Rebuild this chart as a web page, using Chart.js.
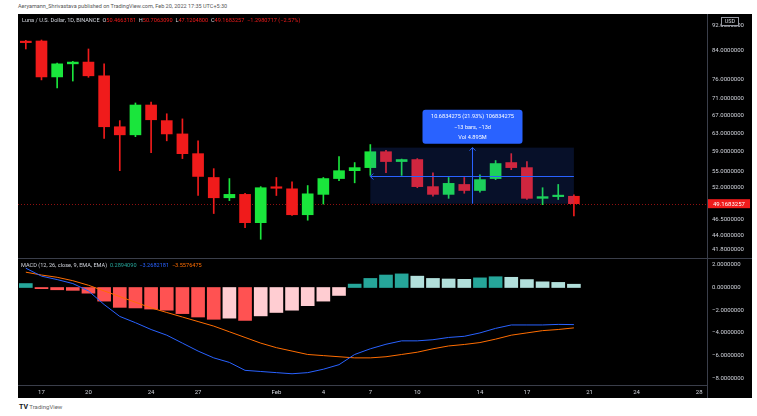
<!DOCTYPE html>
<html><head><meta charset="utf-8">
<script src="https://cdn.jsdelivr.net/npm/chart.js@4.4.1/dist/chart.umd.min.js"></script>
<style>
html,body{margin:0;padding:0;background:#fff;width:757px;height:416px;overflow:hidden;font-family:Roboto,'Liberation Sans',sans-serif}
#pub{position:absolute;left:18px;top:3px;font-size:5.5px;color:#555;white-space:nowrap}
#panel{position:absolute;left:18px;top:14px;width:734px;height:384px;background:#000}
#pc{position:absolute;left:18px;top:14px}
#mc{position:absolute;left:18px;top:258px}
#logo{position:absolute;left:19px;top:403px;font-size:6px;color:#666;white-space:nowrap}
</style></head><body>
<div id="pub">Aeryamann_Shrivastava published on TradingView.com, Feb 20, 2022 17:35 UTC+5:30</div>
<div id="panel"></div>
<canvas id="pc" width="734" height="244"></canvas>
<canvas id="mc" width="734" height="140"></canvas>
<div id="logo"><b style="color:#131722;font-size:7px">TV</b> TradingView</div>
<script>
// ---------- data ----------
const dates = ['Jan 16','Jan 17','Jan 18','Jan 19','Jan 20','Jan 21','Jan 22','Jan 23','Jan 24','Jan 25','Jan 26','Jan 27','Jan 28','Jan 29','Jan 30','Jan 31',
  'Feb 1','Feb 2','Feb 3','Feb 4','Feb 5','Feb 6','Feb 7','Feb 8','Feb 9','Feb 10','Feb 11','Feb 12','Feb 13','Feb 14','Feb 15','Feb 16','Feb 17','Feb 18','Feb 19','Feb 20',
  'Feb 21','Feb 22','Feb 23','Feb 24','Feb 25','Feb 26','Feb 27','Feb 28'];
const opens  = [86.7,87.0,76.7,80.3,80.8,77.0,64.4,62.6,69.5,65.8,62.8,58.6,53.9,50.2,50.8,46.0,52.0,51.8,47.3,50.8,53.7,55.2,55.8,59.0,57.0,57.4,52.2,50.8,52.6,51.5,53.7,56.8,55.8,50.1,50.4,50.4663181];
const highs  = [87.2,87.3,80.5,81.0,84.6,80.3,65.8,70.0,70.2,67.4,66.2,61.3,55.6,53.7,51.0,52.2,53.9,53.1,52.4,53.9,58.0,56.8,60.5,59.3,57.5,57.6,54.8,53.9,53.9,54.4,57.2,58.6,57.0,52.0,52.6,50.7063090];
const lows   = [84.6,75.9,73.8,75.6,76.6,61.8,55.2,62.2,58.8,61.3,57.6,50.6,47.5,49.7,45.2,43.4,50.6,47.2,46.4,49.1,53.3,52.9,54.3,54.8,54.3,52.0,50.5,50.1,51.0,51.2,53.5,55.4,49.9,49.0,49.9,47.1204800];
const closes = [86.5,76.7,80.3,80.8,77.0,64.4,62.6,69.5,66.0,62.8,58.6,54.1,50.2,50.8,46.0,52.0,51.9,47.3,50.9,53.7,55.2,55.8,59.0,57.0,57.4,52.2,50.8,52.8,51.5,53.5,56.6,55.8,50.1,50.4,50.4663,49.1683257];
const macdLine   = [1.7,1.0,0.7,0.35,-0.3,-1.5,-2.55,-3.1,-3.7,-4.2,-4.9,-5.6,-6.2,-6.6,-7.3,-7.4,-7.5,-7.6,-7.5,-7.2,-6.8,-5.9,-5.4,-5.0,-4.7,-4.7,-4.6,-4.4,-4.3,-4.0,-3.6,-3.3,-3.3,-3.3,-3.25,-3.2682181];
const signalLine = [1.35,1.1,0.9,0.6,0.2,-0.3,-0.8,-1.3,-1.8,-2.2,-2.6,-3.0,-3.4,-3.9,-4.4,-4.9,-5.3,-5.6,-5.9,-6.0,-6.1,-6.2,-6.2,-6.1,-5.9,-5.7,-5.4,-5.15,-5.02,-4.85,-4.55,-4.2,-4.0,-3.8,-3.7,-3.5576475];
const histogram  = [0.35,-0.1,-0.2,-0.25,-0.5,-1.2,-1.75,-1.8,-1.9,-2.0,-2.3,-2.6,-2.8,-2.7,-2.9,-2.5,-2.2,-2.0,-1.6,-1.2,-0.7,0.3,0.8,1.1,1.2,1.0,0.8,0.75,0.72,0.85,0.95,0.9,0.7,0.5,0.45,0.2894090];
const priceTicks = [92,84,76,71,67,63,59,55,52,46.5,44,41.8];
const macdTicks  = [2,0,-2,-4,-6,-8];
const xTickLabels = {'Jan 17':'17','Jan 20':'20','Jan 24':'24','Jan 27':'27','Feb 1':'Feb','Feb 4':'4','Feb 7':'7','Feb 10':'10','Feb 14':'14','Feb 17':'17','Feb 21':'21','Feb 24':'24','Feb 28':'28'};
const changeText = '−1.2980717 (−2.57%)';
const rangeFrom = 'Feb 7', rangeTo = 'Feb 20', rangeHigh = 59.8517532, rangeLow = 49.1683257;
const rangeText = ['10.6834275 (21.93%) 106834275', '−13 bars, −13d', 'Vol 4.895M'];
const macdTitle = 'MACD (12, 26, close, 9, EMA, EMA)';

// ---------- styles ----------
const UP = '#1ae53c', DOWN = '#f01b1b';
const TXT = '#d1d4dc', AXIS = '#3a3e4a', FONT = 'Roboto, "Liberation Sans", sans-serif';
const candleCol = opens.map((o,i)=> closes[i] >= o ? UP : DOWN);
const histCol = histogram.map((h,i)=>{
  const p = i>0 ? histogram[i-1] : h;
  if (h >= 0) return h >= p ? '#26a69a' : '#b2dfdb';
  return h < p ? '#ff5252' : '#ffcdd2';
});
const fmt = v => (v < 0 ? '−' : '') + Math.abs(v).toFixed(7);
const last = closes.length - 1;

function noPad(w){ return s => { s.width = w; s.paddingTop = 0; s.paddingBottom = 0; }; }

function arrow(ctx, x, y, dir){
  ctx.beginPath();
  if (dir === 'up'){ ctx.moveTo(x-3,y+3); ctx.lineTo(x,y); ctx.lineTo(x+3,y+3); }
  else { ctx.moveTo(x+3,y-3); ctx.lineTo(x,y); ctx.lineTo(x+3,y+3); }
  ctx.stroke();
}

const pricePane = {
  id: 'pricePane',
  beforeDatasetsDraw(chart){
    const {ctx, chartArea:a, scales:{y}} = chart;
    const py = Math.round(y.getPixelForValue(closes[last])) + 0.5;
    ctx.save();
    ctx.strokeStyle = 'rgba(240,27,27,0.6)'; ctx.lineWidth = 1; ctx.setLineDash([1,2]);
    ctx.beginPath(); ctx.moveTo(a.left, py); ctx.lineTo(a.right, py); ctx.stroke();
    ctx.restore();
  },
  afterDatasetsDraw(chart){
    const {ctx, scales:{x,y}} = chart;
    const x1 = x.getPixelForValue(dates.indexOf(rangeFrom));
    const x2 = x.getPixelForValue(dates.indexOf(rangeTo));
    const y1 = y.getPixelForValue(rangeHigh), y2 = y.getPixelForValue(rangeLow);
    const mx = Math.round((x1+x2)/2)+0.5, my = Math.round((y1+y2)/2)+0.5;
    ctx.save();
    ctx.fillStyle = 'rgba(41,98,255,0.16)';
    ctx.fillRect(x1, y1, x2-x1, y2-y1);
    ctx.strokeStyle = '#2962ff'; ctx.lineWidth = 1;
    ctx.beginPath(); ctx.moveTo(x1, my); ctx.lineTo(x2, my); ctx.stroke();
    ctx.beginPath(); ctx.moveTo(mx, y2); ctx.lineTo(mx, y1); ctx.stroke();
    arrow(ctx, mx, y1, 'up'); arrow(ctx, x1, my, 'left');
    // label box
    const bw = 100, bh = 34, bx = mx - bw/2, by = y1 - 4 - bh;
    ctx.fillStyle = '#2962ff';
    ctx.beginPath(); ctx.roundRect(bx, by, bw, bh, 3); ctx.fill();
    ctx.fillStyle = '#ffffff'; ctx.font = '5.6px ' + FONT; ctx.textAlign = 'center'; ctx.textBaseline = 'middle';
    rangeText.forEach((t,i)=> ctx.fillText(t, mx, by + 7 + i*10.5));
    ctx.restore();
  },
  afterDraw(chart){
    const {ctx, chartArea:a, scales:{y}} = chart;
    ctx.save();
    // header legend
    ctx.font = '5.6px ' + FONT; ctx.textBaseline = 'middle'; ctx.textAlign = 'left';
    const parts = [
      ['Luna / U.S. Dollar, 1D, BINANCE  ', TXT], ['O', TXT], [opens[last].toFixed(7)+'  ', DOWN],
      ['H', TXT], [highs[last].toFixed(7)+'  ', DOWN], ['L', TXT], [lows[last].toFixed(7)+'  ', DOWN],
      ['C', TXT], [closes[last].toFixed(7)+'  ', DOWN], [changeText, DOWN]];
    let tx = 4;
    parts.forEach(([t,c]) => { ctx.fillStyle = c; ctx.fillText(t, tx, 7); tx += ctx.measureText(t).width; });
    // current price label
    const py = y.getPixelForValue(closes[last]);
    ctx.fillStyle = DOWN; ctx.fillRect(a.right + 1, py - 4.5, 42, 9);
    ctx.fillStyle = '#ffffff'; ctx.font = '6px ' + FONT;
    ctx.fillText(closes[last].toFixed(7), a.right + 6, py + 0.5);
    // USD box
    ctx.fillStyle = '#000'; ctx.fillRect(a.right + 14, 3, 18, 9);
    ctx.strokeStyle = '#9598a1'; ctx.lineWidth = 1; ctx.strokeRect(a.right + 14.5, 3.5, 17, 8);
    ctx.fillStyle = TXT; ctx.font = '5.5px ' + FONT; ctx.textAlign = 'center';
    ctx.fillText('USD', a.right + 23, 7.5);
    ctx.restore();
  }
};

const macdPane = {
  id: 'macdPane',
  afterDraw(chart){
    const {ctx, chartArea:a, width, height} = chart;
    ctx.save();
    ctx.strokeStyle = AXIS; ctx.lineWidth = 1;
    ctx.beginPath(); ctx.moveTo(0, 0.5); ctx.lineTo(width, 0.5); ctx.stroke();
    ctx.beginPath(); ctx.moveTo(a.right + 0.5, a.bottom); ctx.lineTo(a.right + 0.5, height); ctx.stroke();
    ctx.font = '5.6px ' + FONT; ctx.textBaseline = 'middle'; ctx.textAlign = 'left';
    const parts = [[macdTitle + '  ', TXT], [histogram[last].toFixed(7) + '  ', '#26a69a'],
                   [fmt(macdLine[last]) + '  ', '#2962ff'], [fmt(signalLine[last]), '#ff6d00']];
    let tx = 3;
    parts.forEach(([t,c]) => { ctx.fillStyle = c; ctx.fillText(t, tx, 7.5); tx += ctx.measureText(t).width; });
    ctx.restore();
  }
};

Chart.defaults.font.family = FONT;

new Chart(document.getElementById('pc'), {
  type: 'bar',
  data: { labels: dates, datasets: [
    { data: lows.map((l,i)=>[l, highs[i]]), backgroundColor: candleCol, barThickness: 1, grouped: false, order: 2 },
    { data: opens.map((o,i)=>[o, closes[i]]), backgroundColor: candleCol, barThickness: 11, minBarLength: 1.5, grouped: false, order: 1 }
  ]},
  options: {
    responsive: false, animation: false, layout: { padding: 0 },
    plugins: { legend: { display: false }, tooltip: { enabled: false } },
    scales: {
      x: { display: false, offset: true, grid: { display: false } },
      y: { type: 'logarithmic', position: 'right', min: 40.64, max: 95.64,
           afterBuildTicks: s => { s.ticks = priceTicks.map(v => ({ value: v })); },
           afterFit: noPad(45),
           grid: { display: false, drawTicks: false }, border: { display: true, color: AXIS },
           ticks: { color: TXT, font: { size: 6 }, padding: 5, autoSkip: false, callback: v => Number(v).toFixed(7) } }
    }
  },
  plugins: [pricePane]
});

new Chart(document.getElementById('mc'), {
  type: 'bar',
  data: { labels: dates, datasets: [
    { type: 'line', data: macdLine, borderColor: '#2962ff', borderWidth: 1, pointRadius: 0, tension: 0, order: 0 },
    { type: 'line', data: signalLine, borderColor: '#ff6d00', borderWidth: 1, pointRadius: 0, tension: 0, order: 0 },
    { data: histogram, backgroundColor: histCol, barThickness: 13, order: 2 }
  ]},
  options: {
    responsive: false, animation: false, layout: { padding: 0 },
    plugins: { legend: { display: false }, tooltip: { enabled: false } },
    scales: {
      x: { offset: true, grid: { display: false, drawTicks: false }, border: { display: true, color: AXIS },
           afterFit: s => { s.height = 13; s.paddingLeft = 0; s.paddingRight = 0; },
           ticks: { color: TXT, font: { size: 6 }, padding: 4, autoSkip: false, maxRotation: 0,
                    callback: (v, i) => xTickLabels[dates[i]] || '' } },
      y: { position: 'right', min: -8.59, max: 2.6,
           afterBuildTicks: s => { s.ticks = macdTicks.map(v => ({ value: v })); },
           afterFit: noPad(45),
           grid: { display: false, drawTicks: false }, border: { display: true, color: AXIS },
           ticks: { color: TXT, font: { size: 6 }, padding: 5, autoSkip: false, callback: v => fmt(v) } }
    }
  },
  plugins: [macdPane]
});
</script>
</body></html>
